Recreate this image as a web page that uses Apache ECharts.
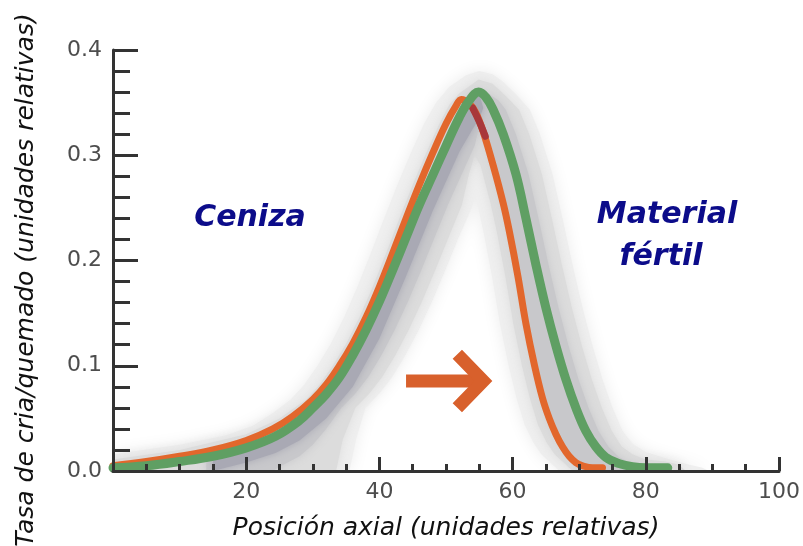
<!DOCTYPE html>
<html>
<head>
<meta charset="utf-8">
<script src="https://cdn.jsdelivr.net/npm/echarts@6/dist/echarts.min.js"></script>
<style>html,body{margin:0;padding:0;background:#fff}#c{width:803px;height:546px}</style>
</head>
<body>
<div id="c"></div>
<script>
// ---- data ----
const xTicks = [0, 20, 40, 60, 80, 100];
const yTicks = [0, 0.1, 0.2, 0.3, 0.4];

const orangeCurve = [[0,0.005],[5,0.009],[10,0.014],[15,0.020],[20,0.029],[24,0.040],[27,0.052],[30,0.068],[32,0.082],[34,0.100],[36,0.121],[38,0.146],[40,0.175],[42,0.207],[44,0.240],[46,0.272],[48,0.302],[50,0.330],[51.5,0.347],[52.3,0.353],[53.5,0.349],[54.5,0.340],[55.6,0.322],[57.1,0.290],[58.6,0.254],[59.5,0.228],[60.8,0.185],[62,0.140],[63.3,0.100],[64.5,0.069],[65.5,0.050],[66.5,0.035],[67.5,0.023],[68.5,0.014],[69.5,0.008],[70.5,0.005],[72,0.003],[73.5,0.003]];

const orangeDark = [[54.0,0.345],[55.0,0.332],[55.9,0.318]];

const greenCurve = [[0,0.003],[5,0.005],[10,0.009],[15,0.014],[20,0.022],[24.4,0.033],[28,0.048],[30,0.060],[32,0.073],[34,0.089],[36,0.110],[38,0.134],[40,0.161],[42,0.191],[44,0.222],[46,0.253],[48,0.281],[50,0.309],[52,0.336],[53.5,0.352],[54.9,0.360],[56,0.355],[57.1,0.343],[58.6,0.320],[60.5,0.282],[62,0.240],[63.5,0.196],[65,0.155],[66.5,0.119],[68,0.087],[69.5,0.060],[71,0.038],[72.5,0.023],[74,0.013],[76,0.007],[78,0.004],[80,0.003],[83.3,0.003]];

// grey spread band around the curves: outer haze, light, middle, dark core
const bandOuter = [[0,0.016],[10,0.025],[17,0.034],[21,0.043],[24,0.055],[26.7,0.068],[28.7,0.082],[30.7,0.100],[32.7,0.121],[34.7,0.146],[36.7,0.175],[38.7,0.207],[40.7,0.240],[42.7,0.272],[44.7,0.302],[46.7,0.330],[48.5,0.350],[50.5,0.365],[53,0.376],[55,0.380],[57,0.377],[58.5,0.370],[60.5,0.358],[62.6,0.343],[64.1,0.320],[66,0.282],[67.5,0.240],[69,0.196],[70.5,0.155],[72,0.119],[73.5,0.087],[75,0.060],[76.5,0.038],[78,0.026],[80,0.018],[83,0.012],[86,0.007],[88.5,0.003],[89.5,0],[67,0],[65.5,0.009],[64.3,0.016],[63.1,0.027],[61.8,0.044],[60.6,0.069],[59.4,0.100],[58.1,0.140],[56.9,0.185],[55.6,0.228],[54.7,0.254],[54.5,0.262],[53.5,0.245],[51.9,0.222],[49.9,0.191],[47.9,0.161],[45.9,0.134],[43.9,0.110],[41.9,0.089],[39.9,0.073],[37.9,0.060],[36.5,0.030],[35.5,0],[0,0]];

const bandLight = [[0,0.011],[10,0.020],[20,0.035],[25,0.050],[29,0.068],[31,0.082],[33,0.100],[35,0.121],[37,0.146],[39,0.175],[41,0.207],[43,0.240],[45,0.272],[47,0.302],[49,0.330],[50.5,0.348],[52,0.359],[54.9,0.372],[57,0.368],[59,0.356],[61,0.343],[62.5,0.320],[64.4,0.282],[65.9,0.240],[67.4,0.196],[68.9,0.155],[70.4,0.119],[71.9,0.087],[73.4,0.060],[74.9,0.038],[76.4,0.023],[78,0.016],[80,0.011],[83,0.009],[85,0.006],[86,0],[69,0],[67.5,0.009],[66.3,0.016],[65.1,0.027],[63.8,0.044],[62.6,0.069],[61.4,0.100],[60.1,0.140],[58.9,0.185],[57.6,0.228],[56.7,0.254],[55.2,0.290],[54.3,0.300],[53.4,0.281],[52.4,0.253],[50.4,0.222],[48.4,0.191],[46.4,0.161],[44.4,0.134],[42.4,0.110],[40.4,0.089],[38.4,0.073],[36.4,0.060],[34.5,0.030],[33.5,0],[0,0]];

const bandMiddle = [[14,0],[14,0.013],[20,0.022],[24.4,0.033],[28,0.048],[30,0.060],[32,0.073],[34,0.089],[36,0.110],[38,0.134],[40,0.161],[42,0.191],[44,0.222],[46,0.253],[48,0.281],[50,0.309],[52,0.336],[53.5,0.352],[54.9,0.360],[56.5,0.358],[57.9,0.352],[59,0.343],[60.5,0.320],[62.4,0.282],[63.9,0.240],[65.4,0.196],[66.9,0.155],[68.4,0.119],[69.9,0.087],[71.4,0.060],[72.9,0.038],[74.4,0.023],[76,0.013],[78,0.007],[80,0.004],[81,0],[70,0],[69.4,0.009],[68.2,0.016],[67,0.027],[65.7,0.044],[64.5,0.069],[63.3,0.100],[62,0.140],[60.8,0.185],[59.5,0.228],[58.6,0.254],[57.1,0.290],[55.6,0.322],[54.8,0.322],[54.3,0.309],[52.3,0.281],[50.3,0.253],[48.3,0.222],[46.3,0.191],[44.3,0.161],[42.3,0.134],[40.3,0.110],[38.3,0.089],[36.3,0.073],[34.3,0.060],[32,0.040],[30,0.025],[28,0.014],[25,0.004],[24,0]];

const bandCore = [[15,0],[15,0.014],[20,0.022],[24.4,0.033],[28,0.048],[30,0.060],[32,0.073],[34,0.089],[36,0.110],[38,0.134],[40,0.161],[42,0.191],[44,0.222],[46,0.253],[48,0.281],[50,0.309],[52,0.336],[53.5,0.352],[54.9,0.360],[55.6,0.345],[55,0.335],[54,0.325],[52,0.303],[48,0.247],[44,0.185],[40,0.126],[36,0.080],[32,0.050],[28,0.029],[24.4,0.017],[20,0.008]];

const arrowShaft = [[44.0,0.0855],[55.0,0.0855]];
const arrowHead = [[51.7,0.111],[55.6,0.0855],[51.7,0.060]];

const labels = {
  xTitle: 'Posición axial (unidades relativas)',
  yTitle: 'Tasa de cria/quemado (unidades relativas)',
  left: 'Ceniza',
  right1: 'Material',
  right2: 'fértil'
};

// ---- chart ----
function band(points, style, z) {
  return {
    type: 'custom', data: points, z: z, silent: true, clip: true,
    renderItem: function (params, api) {
      if (params.dataIndex !== 0) return null;
      return { type: 'polygon', shape: { points: points.map(p => api.coord(p)) }, style: style };
    }
  };
}
function line(data, color, width, z, extra) {
  return Object.assign({
    type: 'line', data: data, symbol: 'none', smooth: 0.4, z: z, silent: true,
    lineStyle: { color: color, width: width, cap: 'round', join: 'round' }
  }, extra || {});
}

const tickColor = '#333';
const labelColor = '#4d4d4d';
const chart = echarts.init(document.getElementById('c'), null, { renderer: 'canvas' });
chart.setOption({
  animation: false,
  backgroundColor: '#fff',
  grid: { left: 113, right: 19, top: 50, bottom: 73, containLabel: false },
  xAxis: {
    type: 'value', min: xTicks[0], max: xTicks[xTicks.length - 1], interval: 20, z: 20,
    name: labels.xTitle, nameLocation: 'middle', nameGap: 45,
    nameTextStyle: { fontFamily: 'DejaVu Sans', fontStyle: 'italic', fontSize: 25, color: '#111' },
    axisLine: { lineStyle: { color: tickColor, width: 3 } },
    axisTick: { inside: true, length: 14, lineStyle: { color: tickColor, width: 3 } },
    minorTick: { show: true, splitNumber: 4, length: 7, lineStyle: { color: tickColor, width: 3 } },
    splitLine: { show: false },
    axisLabel: { fontFamily: 'DejaVu Sans', fontSize: 22, color: labelColor, margin: 10,
      formatter: v => (v === 0 ? '' : String(v)) }
  },
  yAxis: {
    type: 'value', min: yTicks[0], max: yTicks[yTicks.length - 1], interval: 0.1, z: 20,
    axisLine: { lineStyle: { color: tickColor, width: 3 } },
    axisTick: { inside: true, length: 25, lineStyle: { color: tickColor, width: 3 } },
    minorTick: { show: true, splitNumber: 5, length: 17, lineStyle: { color: tickColor, width: 3 } },
    splitLine: { show: false },
    axisLabel: { fontFamily: 'DejaVu Sans', fontSize: 22, color: labelColor, margin: 11,
      formatter: v => v.toFixed(1) }
  },
  series: [
    band(bandOuter, { fill: '#efefef', shadowBlur: 16, shadowColor: '#ececec' }, 1),
    band(bandLight, { fill: '#dcdcdc', shadowBlur: 12, shadowColor: '#dcdcdc' }, 2),
    band(bandMiddle, { fill: '#c8c8cb', shadowBlur: 10, shadowColor: '#c8c8cb' }, 3),
    band(bandCore, { fill: '#a9a9b4', shadowBlur: 8, shadowColor: '#a9a9b4' }, 4),
    line(orangeCurve, '#e2672c', 7, 5),
    line(orangeDark, '#a8373a', 7, 6),
    line(greenCurve, '#5f9f63', 9, 7),
    line(arrowShaft, '#d8602c', 13, 8, { smooth: false, lineStyle: { color: '#d8602c', width: 13, cap: 'butt' } }),
    line(arrowHead, '#d8602c', 13, 8, { smooth: false, lineStyle: { color: '#d8602c', width: 13, cap: 'butt', join: 'miter' } })
  ],
  graphic: [
    { type: 'text', x: 26, y: 280, rotation: Math.PI / 2, z: 10,
      style: { text: labels.yTitle, font: 'italic 25px "DejaVu Sans"', fill: '#111', align: 'center', verticalAlign: 'middle' } },
    { type: 'text', x: 250, y: 218, z: 10,
      style: { text: labels.left, font: 'italic bold 30px "DejaVu Sans"', fill: '#0c0c8a', align: 'center', verticalAlign: 'middle' } },
    { type: 'text', x: 667, y: 215, z: 10,
      style: { text: labels.right1, font: 'italic bold 30px "DejaVu Sans"', fill: '#0c0c8a', align: 'center', verticalAlign: 'middle' } },
    { type: 'text', x: 661, y: 257, z: 10,
      style: { text: labels.right2, font: 'italic bold 30px "DejaVu Sans"', fill: '#0c0c8a', align: 'center', verticalAlign: 'middle' } }
  ]
});
</script>
</body>
</html>
